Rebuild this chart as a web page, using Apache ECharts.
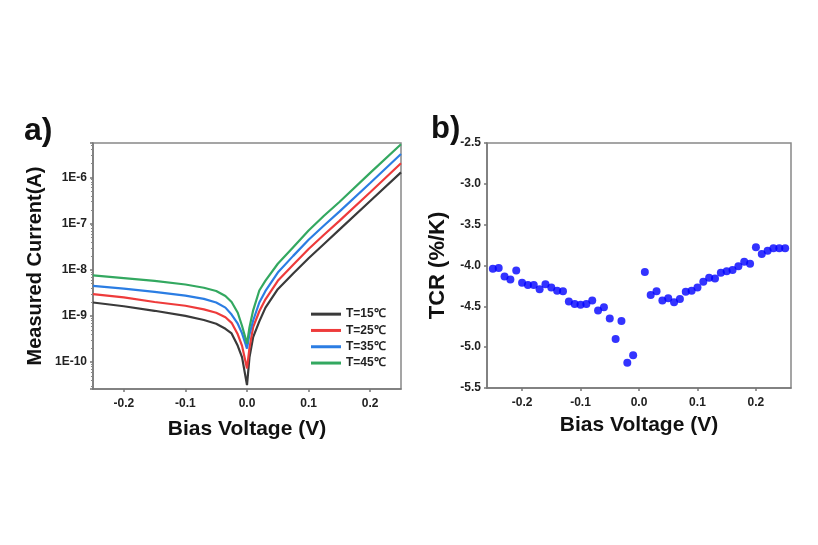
<!DOCTYPE html>
<html>
<head>
<meta charset="utf-8">
<script src="https://cdn.jsdelivr.net/npm/echarts@6/dist/echarts.min.js"></script>
<style>
html,body{margin:0;padding:0;background:#fff;}
#c{width:818px;height:545px;}
</style>
</head>
<body>
<div id="c"></div>
<script>
// ---- Panel a) : I-V curves (log current) ----
const biasVolts = [-0.25,-0.2,-0.15,-0.1,-0.07,-0.05,-0.035,-0.025,-0.015,-0.008,0,0.004,0.01,0.02,0.03,0.05,0.075,0.1,0.125,0.15,0.2,0.25];
const current15 = [1.95e-9,1.62e-9,1.29e-9,1.00e-9,8.13e-10,6.76e-10,5.25e-10,4.17e-10,2.24e-10,1.26e-10,3.16e-11,1.26e-10,3.47e-10,7.59e-10,1.51e-9,3.80e-9,8.32e-9,1.78e-8,3.63e-8,7.41e-8,3.09e-7,1.29e-6];
const current25 = [2.95e-9,2.51e-9,2.00e-9,1.66e-9,1.38e-9,1.17e-9,9.33e-10,7.08e-10,3.98e-10,2.24e-10,7.24e-11,2.00e-10,5.75e-10,1.26e-9,2.29e-9,5.75e-9,1.29e-8,2.82e-8,5.75e-8,1.15e-7,4.79e-7,2.04e-6];
const current35 = [4.47e-9,3.89e-9,3.31e-9,2.75e-9,2.34e-9,1.95e-9,1.51e-9,1.07e-9,6.76e-10,4.17e-10,1.95e-10,3.98e-10,7.94e-10,1.95e-9,3.47e-9,8.71e-9,2.00e-8,4.47e-8,9.12e-8,1.82e-7,7.59e-7,3.24e-6];
const current45 = [7.59e-9,6.61e-9,5.75e-9,4.79e-9,4.07e-9,3.47e-9,2.69e-9,2.00e-9,1.17e-9,6.03e-10,2.51e-10,5.62e-10,1.32e-9,3.55e-9,5.80e-9,1.35e-8,3.09e-8,7.08e-8,1.48e-7,2.95e-7,1.26e-6,5.25e-6];
const seriesNames = ['T=15\u2103','T=25\u2103','T=35\u2103','T=45\u2103'];

// ---- Panel b) : TCR vs bias ----
const tcrVolts = [-0.25,-0.24,-0.23,-0.22,-0.21,-0.2,-0.19,-0.18,-0.17,-0.16,-0.15,-0.14,-0.13,-0.12,-0.11,-0.1,-0.09,-0.08,-0.07,-0.06,-0.05,-0.04,-0.03,-0.02,-0.01,
                  0.01,0.02,0.03,0.04,0.05,0.06,0.07,0.08,0.09,0.1,0.11,0.12,0.13,0.14,0.15,0.16,0.17,0.18,0.19,0.2,0.21,0.22,0.23,0.24,0.25];
const tcrValues = [-4.04,-4.03,-4.135,-4.17,-4.06,-4.21,-4.24,-4.24,-4.29,-4.23,-4.27,-4.31,-4.315,-4.44,-4.47,-4.48,-4.47,-4.43,-4.55,-4.51,-4.65,-4.90,-4.68,-5.19,-5.10,
                   -4.08,-4.36,-4.315,-4.43,-4.40,-4.45,-4.41,-4.32,-4.31,-4.27,-4.20,-4.15,-4.16,-4.09,-4.07,-4.055,-4.01,-3.955,-3.98,-3.775,-3.86,-3.82,-3.79,-3.79,-3.79];

const FONT = '"Liberation Sans", Arial, sans-serif';
const lineColors = ['#3a3a3a','#ee3b3b','#2b7de3','#33a860'];
const currents = [current15, current25, current35, current45];

function pairs(xs, ys){ return xs.map((x,i)=>[x, ys[i]]); }

const axisLineStyle = {color:'#777', width:1.5};
const labelStyle = {color:'#222', fontWeight:'bold', fontSize:12, fontFamily:FONT};
const nameStyle = {color:'#111', fontWeight:'bold', fontFamily:FONT};

const chart = echarts.init(document.getElementById('c'));
chart.setOption({
  animation:false,
  backgroundColor:'#fff',
  title:[
    {text:'a)', left:19, top:110, textStyle:{fontSize:32, fontWeight:'bold', color:'#111', fontFamily:FONT}},
    {text:'b)', left:426, top:109, textStyle:{fontSize:31, fontWeight:'bold', color:'#111', fontFamily:FONT}}
  ],
  legend:{
    orient:'vertical', left:306, top:303, itemWidth:30, itemHeight:3, itemGap:4, icon:'rect',
    textStyle:{fontSize:12, fontWeight:'bold', color:'#222', fontFamily:FONT, lineHeight:12.3},
    data: seriesNames
  },
  grid:[
    {left:93, right:417, top:143, bottom:156, show:true, borderColor:'#888', borderWidth:1.5, containLabel:false},
    {left:487, right:27, top:143, bottom:157, show:true, borderColor:'#888', borderWidth:1.5, containLabel:false}
  ],
  xAxis:[
    {type:'value', gridIndex:0, min:-0.25, max:0.25,
     name:'Bias Voltage (V)', nameLocation:'middle', nameGap:30,
     nameTextStyle:Object.assign({fontSize:21}, nameStyle),
     axisLine:{show:true, onZero:false, lineStyle:axisLineStyle},
     axisTick:{show:true, inside:false, length:3, lineStyle:axisLineStyle},
     axisLabel:Object.assign({margin:9, showMinLabel:false, showMaxLabel:false, formatter:v=>v.toFixed(1)}, labelStyle),
     splitLine:{show:false}},
    {type:'value', gridIndex:1, min:-0.26, max:0.26,
     name:'Bias Voltage (V)', nameLocation:'middle', nameGap:27,
     nameTextStyle:Object.assign({fontSize:21}, nameStyle),
     axisLine:{show:true, onZero:false, lineStyle:axisLineStyle},
     axisTick:{show:true, inside:false, length:3, lineStyle:axisLineStyle},
     axisLabel:Object.assign({margin:9, showMinLabel:false, showMaxLabel:false, formatter:v=>v.toFixed(1)}, labelStyle),
     splitLine:{show:false}}
  ],
  yAxis:[
    {type:'log', logBase:10, gridIndex:0, min:2.6e-11, max:5.6e-6,
     name:'Measured Current(A)', nameLocation:'middle', nameGap:48,
     nameTextStyle:Object.assign({fontSize:20}, nameStyle),
     axisLine:{show:true, onZero:false, lineStyle:axisLineStyle},
     axisTick:{show:true, inside:false, length:3, lineStyle:axisLineStyle},
     minorTick:{show:true, splitNumber:9, length:2, lineStyle:{color:'#888', width:1}},
     axisLabel:Object.assign({margin:6, showMinLabel:false, showMaxLabel:false,
       formatter:v=>'1E'+Math.round(Math.log10(v))}, labelStyle),
     splitLine:{show:false}, minorSplitLine:{show:false}},
    {type:'value', gridIndex:1, min:-5.5, max:-2.5, interval:0.5,
     name:'TCR (%/K)', nameLocation:'middle', nameGap:38,
     nameTextStyle:Object.assign({fontSize:22}, nameStyle),
     axisLine:{show:true, onZero:false, lineStyle:axisLineStyle},
     axisTick:{show:true, inside:false, length:3, lineStyle:axisLineStyle},
     axisLabel:Object.assign({margin:6, formatter:v=>v.toFixed(1)}, labelStyle),
     splitLine:{show:false}}
  ],
  series: seriesNames.map((n,i)=>({
    name:n, type:'line', xAxisIndex:0, yAxisIndex:0,
    data: pairs(biasVolts, currents[i]),
    showSymbol:false, symbol:'none', smooth:false,
    lineStyle:{color:lineColors[i], width:2.2},
    itemStyle:{color:lineColors[i]}
  })).concat([{
    name:'TCR', type:'scatter', xAxisIndex:1, yAxisIndex:1,
    data: pairs(tcrVolts, tcrValues),
    symbol:'circle', symbolSize:8,
    itemStyle:{color:'#0000ff'}
  }])
});
</script>
</body>
</html>
